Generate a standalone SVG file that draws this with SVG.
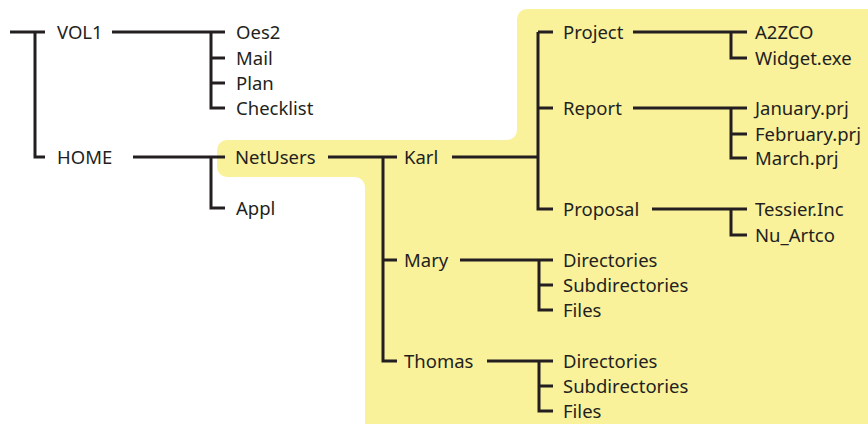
<svg xmlns="http://www.w3.org/2000/svg" width="868" height="424" viewBox="0 0 868 424">
<style>
.c{fill:none;stroke:#231f20;stroke-width:3;stroke-linecap:butt;stroke-linejoin:miter}
text{font-family:"Noto Sans","Liberation Sans",sans-serif;font-size:18.5px;fill:#231f20}
</style>
<rect width="868" height="424" fill="#fff"/>
<path id="highlight" d="M527 9 H868 V424 H365 V187 A10 10 0 0 0 355 177 H227 A10 10 0 0 1 217 167 V150 A10 10 0 0 1 227 140 H507 A10 10 0 0 0 517 130 V19 A10 10 0 0 1 527 9 Z" fill="#faf19b"/>
<g id="connectors" class="c">
<path d="M10 32 H45 M35 32 V157 H45"/>
<path d="M112 32 H225 M211 32 V108 H225 M211 58 H225 M211 83 H225"/>
<path d="M133 157 H225 M211 157 V208 H225"/>
<path d="M328 157 H397 M383 157 V361 H397 M383 260 H397"/>
<path d="M452 157 H538 M538 32 V209 H553 M538 32 H553 M538 108 H553"/>
<path d="M633 32 H747 M731 32 V58 H747"/>
<path d="M633 108 H747 M731 108 V158 H747 M731 134 H747"/>
<path d="M652 209 H747 M731 209 V235 H747"/>
<path d="M460 260 H553 M539 260 V310 H553 M539 285 H553"/>
<path d="M487 361 H553 M539 361 V411 H553 M539 386 H553"/>
</g>
<g id="vol1"><text x="57" y="39">VOL1</text></g>
<g id="oes2"><text x="236" y="39">Oes2</text></g>
<g id="mail"><text x="236" y="65">Mail</text></g>
<g id="plan"><text x="236" y="90">Plan</text></g>
<g id="checklist"><text x="236" y="115">Checklist</text></g>
<g id="home"><text x="57" y="164">HOME</text></g>
<g id="netusers"><text x="235" y="164">NetUsers</text></g>
<g id="appl"><text x="236" y="215">Appl</text></g>
<g id="karl"><text x="404" y="164">Karl</text></g>
<g id="mary"><text x="404" y="267">Mary</text></g>
<g id="thomas"><text x="404" y="368">Thomas</text></g>
<g id="project"><text x="563" y="39">Project</text></g>
<g id="report"><text x="563" y="115">Report</text></g>
<g id="proposal"><text x="563" y="216">Proposal</text></g>
<g id="a2zco"><text x="755" y="39">A2ZCO</text></g>
<g id="widget"><text x="755" y="65">Widget.exe</text></g>
<g id="january"><text x="755" y="115">January.prj</text></g>
<g id="february"><text x="755" y="141">February.prj</text></g>
<g id="march"><text x="755" y="165">March.prj</text></g>
<g id="tessier"><text x="755" y="216">Tessier.Inc</text></g>
<g id="nuartco"><text x="755" y="242">Nu_Artco</text></g>
<g id="mary-dirs"><text x="563" y="267">Directories</text></g>
<g id="mary-subdirs"><text x="563" y="292">Subdirectories</text></g>
<g id="mary-files"><text x="563" y="317">Files</text></g>
<g id="thomas-dirs"><text x="563" y="368">Directories</text></g>
<g id="thomas-subdirs"><text x="563" y="393">Subdirectories</text></g>
<g id="thomas-files"><text x="563" y="418">Files</text></g>
</svg>
